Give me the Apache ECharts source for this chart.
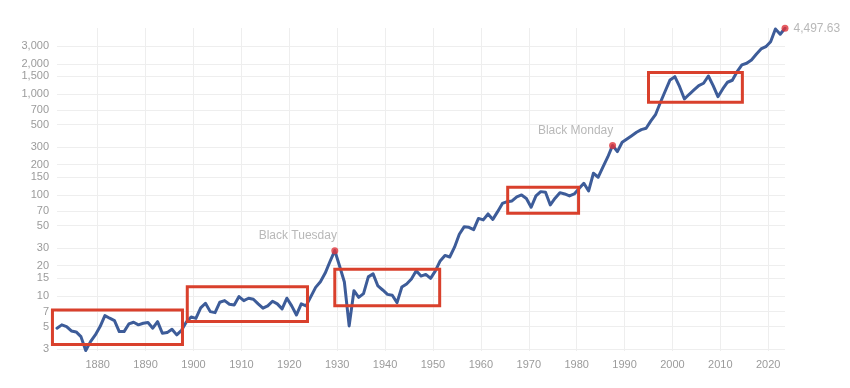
<!DOCTYPE html>
<html>
<head>
<meta charset="utf-8">
<style>
html,body{margin:0;padding:0;background:#fff;}
#chart{width:850px;height:388px;}
</style>
<script src="https://cdn.jsdelivr.net/npm/echarts@6/dist/echarts.min.js"></script>
</head>
<body>
<div id="chart"></div>
<script>
// ---- data ----
var firstYear = 1871;
var values = [
  4.81, 5.19, 4.99, 4.52, 4.42, 3.97, 2.89, 3.54, 4.13,            // 1871-1879
  4.99, 6.41, 6.04, 5.72, 4.45, 4.45, 5.30, 5.51, 5.19, 5.39,      // 1880-1889
  5.47, 4.81, 5.59, 4.29, 4.35, 4.70, 4.13, 4.58, 5.55, 6.22,      // 1890-1899
  6.01, 7.64, 8.50, 7.02, 6.86, 8.70, 9.02, 8.31, 8.18, 9.89,      // 1900-1909
  9.02, 9.53, 9.31, 8.37, 7.59, 8.00, 8.90, 8.37, 7.47, 9.53,      // 1910-1919
  8.00, 6.51, 8.37, 8.00, 9.89, 12.2, 13.9, 16.9, 22.0, 28.2,      // 1920-1929
  19.9, 13.8, 5.07, 11.3, 9.71, 10.6, 15.5, 16.6, 12.6, 11.5,      // 1930-1939
  10.4, 10.2, 8.62, 12.3, 13.2, 14.8, 17.8, 15.8, 16.4, 15.0,      // 1940-1949
  17.8, 22.3, 25.3, 24.4, 30.5, 41.0, 48.5, 48.0, 45.5, 58.8,      // 1950-1959
  56.8, 65.1, 57.5, 68.6, 82.7, 86.2, 87.6, 96.0, 100.4, 92.7,     // 1960-1969
  75.9, 98.2, 108.3, 106.8, 80.0, 93.2, 105.8, 102.7, 98.2, 102.7, // 1970-1979
  116.5, 131.1, 110.0, 164.7, 150.4, 190.2, 238.8, 310.5, 269.5, 333.9, // 1980-1989
  360, 388, 419, 445, 459, 543, 632, 831, 1075, 1382,             // 1990-1999
  1490, 1186, 896, 997, 1100, 1214, 1282, 1514, 1214, 944,         // 2000-2009
  1126, 1312, 1373, 1670, 1946, 2022, 2180, 2483, 2802, 2953,      // 2010-2019
  3309, 4420, 3917, 4497.63                                        // 2020-2023
];
var xTicks = [1880, 1890, 1900, 1910, 1920, 1930, 1940, 1950, 1960, 1970, 1980, 1990, 2000, 2010, 2020];
var yTicks = [3, 5, 7, 10, 15, 20, 30, 50, 70, 100, 150, 200, 300, 500, 700, 1000, 1500, 2000, 3000];
var events = [
  { year: 1929, label: 'Black Tuesday' },
  { year: 1987, label: 'Black Monday' },
  { year: 2023, label: '4,497.63' }
];
// highlighted ranges: [startYear, endYear, low, high]
var boxes = [
  [1870.55, 1897.7, 3.32, 7.30],
  [1898.7, 1923.8, 5.59, 12.4],
  [1929.5, 1951.4, 8.04, 18.5],
  [1965.6, 1980.4, 66.2, 119.8],
  [1995.0, 2014.6, 831, 1634]
];

// ---- build ----
var LOG = Math.log10;
var FONT = 'Liberation Sans, Arial, Helvetica, sans-serif';
// annual observations plotted at mid-year
var lineData = values.map(function (v, i) { return [firstYear + i + 0.5, LOG(v)]; });
var eventData = events.map(function (e, k) {
  var v = values[e.year - firstYear];
  var item = { value: [e.year + 0.5, LOG(v)] };
  if (k < 2) {
    item.label = { show: true, formatter: e.label, position: 'top', distance: 5, offset: [-37, 0] };
  } else {
    item.label = { show: true, formatter: e.label, position: 'right', distance: 5, offset: [0, 0] };
  }
  return item;
});

var chart = echarts.init(document.getElementById('chart'), null, { renderer: 'canvas' });
chart.setOption({
  animation: false,
  backgroundColor: '#ffffff',
  grid: { left: 57, right: 65, top: 28, bottom: 37, containLabel: false },
  xAxis: {
    type: 'value',
    min: 1871.5,
    max: 2023.5,
    axisLine: { show: false },
    axisTick: { show: false, customValues: xTicks },
    axisLabel: {
      customValues: xTicks,
      color: '#9b9b9b', fontSize: 11, fontFamily: FONT, margin: 8,
      formatter: function (v) { return String(Math.round(v)); }
    },
    splitLine: { show: true, lineStyle: { color: '#eeeeee', width: 1 } }
  },
  yAxis: {
    type: 'value',
    min: LOG(2.86),
    max: LOG(4520),
    axisLine: { show: false },
    axisTick: { show: false, customValues: yTicks.map(LOG) },
    axisLabel: {
      customValues: yTicks.map(LOG),
      color: '#9b9b9b', fontSize: 11, fontFamily: FONT, margin: 8,
      formatter: function (v) { return Math.round(Math.pow(10, v)).toLocaleString('en-US'); }
    },
    splitLine: { show: true, lineStyle: { color: '#eeeeee', width: 1 } }
  },
  series: [
    {
      type: 'line',
      data: lineData,
      showSymbol: false,
      symbol: 'none',
      smooth: false,
      lineStyle: { color: '#3d5c99', width: 3, join: 'round', cap: 'round' },
      z: 3
    },
    {
      type: 'scatter',
      data: eventData,
      symbol: 'circle',
      symbolSize: 7,
      itemStyle: { color: '#e0353b' },
      label: { color: '#a6a6a6', fontSize: 12, fontFamily: FONT },
      z: 4
    }
  ]
});

function drawBoxes() {
  var g = boxes.map(function (b) {
    var p1 = chart.convertToPixel({ gridIndex: 0 }, [b[0], LOG(b[3])]);
    var p2 = chart.convertToPixel({ gridIndex: 0 }, [b[1], LOG(b[2])]);
    return {
      type: 'rect',
      shape: { x: p1[0], y: p1[1], width: p2[0] - p1[0], height: p2[1] - p1[1] },
      style: { fill: 'none', stroke: '#d9402c', lineWidth: 3 },
      z: 10
    };
  });
  chart.setOption({ graphic: g });
}
drawBoxes();
</script>
</body>
</html>
